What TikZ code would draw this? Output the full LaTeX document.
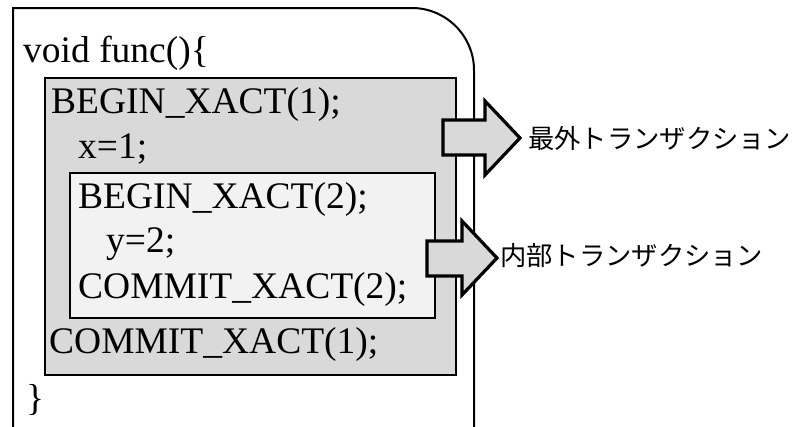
\documentclass[tikz,border=0pt]{standalone}
\usepackage{fontspec}
\setmainfont{Liberation Serif}
\newfontfamily\cjk{Noto Sans CJK JP}
\definecolor{outerfill}{HTML}{D9D9D9}
\definecolor{innerfill}{HTML}{F2F2F2}
\begin{document}
\begin{tikzpicture}[x=1pt,y=-1pt,
  code/.style={anchor=base west, inner sep=0pt, font=\fontsize{37.5}{40}\selectfont},
  lbl/.style={anchor=west, inner sep=0pt, font=\cjk\fontsize{26.3}{28}\selectfont},
  blockarrow/.style={draw=black, line width=3.2pt, fill=outerfill, line join=miter},
  frameline/.style={draw=black, line width=2pt},
  boxline/.style={draw=black, line width=2pt}]
\useasboundingbox (0,0) rectangle (795,426);
% function frame
\draw[frameline] (13,432) -- (13,8) -- (412,8) .. controls (446,8) and (474,36) .. (474,70) -- (474,432);
% outer transaction box
\draw[boxline, fill=outerfill] (45,78) rectangle (456,375);
% inner transaction box
\draw[boxline, fill=innerfill] (70,173) rectangle (435,318);
% code text
\node[code] (l1) at (23,62) {void func()\{};
\node[code] (l2) at (51,113) {BEGIN\_XACT(1);};
\node[code] (l3) at (78,158) {x=1;};
\node[code] (l4) at (78,208) {BEGIN\_XACT(2);};
\node[code] (l5) at (106,252) {y=2;};
\node[code] (l6) at (78,298) {COMMIT\_XACT(2);};
\node[code] (l7) at (49,353) {COMMIT\_XACT(1);};
\node[code] (l8) at (26,410) {\}};
% block arrows
\draw[blockarrow] (443,120) -- (485,120) -- (485,101) -- (520,138) -- (485,175) -- (485,155) -- (443,155) -- cycle;
\draw[blockarrow] (427,241) -- (462,241) -- (462,221) -- (497,258) -- (462,295) -- (462,276) -- (427,276) -- cycle;
% labels
\node[lbl] (outerlbl) at (528,138) {最外トランザクション};
\node[lbl] (innerlbl) at (500,256) {内部トランザクション};
\end{tikzpicture}
\end{document}
